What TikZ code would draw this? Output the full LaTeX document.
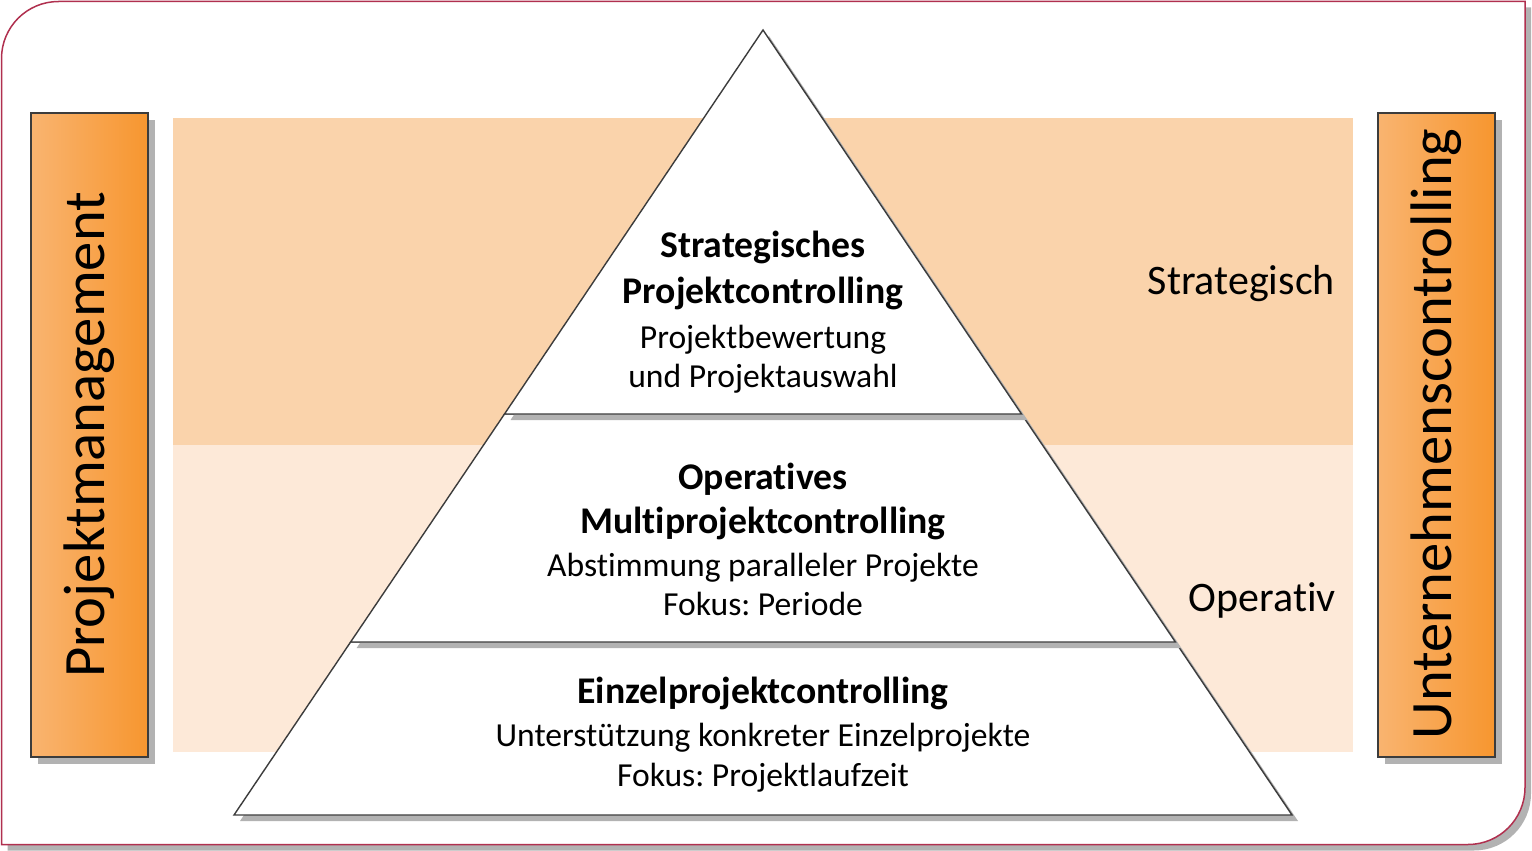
\documentclass[tikz,border=0pt]{standalone}
\usepackage{fontspec}
\setmainfont{Carlito}[Ligatures=NoCommon]
\frenchspacing
\definecolor{framered}{HTML}{B0304F}
\definecolor{shadowgray}{HTML}{B2B2B2}
\definecolor{stratband}{HTML}{FAD3AB}
\definecolor{operband}{HTML}{FDE9D8}
\definecolor{boxL}{HTML}{F9B470}
\definecolor{boxR}{HTML}{F7962F}
\definecolor{edgegray}{HTML}{3C3C3C}
\tikzset{
  shadowfill/.style={fill=shadowgray},
  pyrshape/.style={fill=white, draw=edgegray, line width=1.4pt, line join=miter},
  sidebox/.style={left color=boxL, right color=boxR, draw=edgegray, line width=1.8pt},
  headtext/.style={font=\fontsize{37.7}{44}\selectfont\bfseries, anchor=base, inner sep=0pt},
  subtext/.style={font=\fontsize{33.6}{39}\selectfont, anchor=base, inner sep=0pt},
  leveltext/.style={font=\fontsize{42}{48}\selectfont, anchor=base east, inner sep=0pt},
  sidetext/.style={font=\fontsize{58.6}{66}\selectfont, rotate=90, inner sep=0pt}
}
\begin{document}
\begin{tikzpicture}[x=1pt,y=-1pt]
\useasboundingbox (0,0) rectangle (1532,851);
% outer frame shadow and frame
\fill[shadowgray] (7.5,64.5) arc[start angle=180,end angle=270,radius=57] -- (1531,7.5) -- (1531,793.5) arc[start angle=0,end angle=90,radius=57] -- (7.5,850.5) -- cycle;
\draw[framered, fill=white, line width=1.5pt] (1.5,58.5) arc[start angle=180,end angle=270,radius=57] -- (1525,1.5) -- (1525,787.5) arc[start angle=0,end angle=90,radius=57] -- (1.5,844.5) -- cycle;
% bands
\fill[stratband] (173,118) rectangle (1353,445);
\fill[operband] (173,445) rectangle (1353,752);
% side boxes
\fill[shadowfill] (38,120) rectangle (155,764);
\fill[shadowfill] (1385,120) rectangle (1502,764);
\path[sidebox] (31,113) rectangle (148,757);
\path[sidebox] (1378,113) rectangle (1495,757);
\node[sidetext] (pm) at (89.5,435) {Projektmanagement};
\node[sidetext] (uc) at (1436.5,434) {Unternehmenscontrolling};
% pyramid coordinates
\coordinate (apex) at (763,30);
\coordinate (tl) at (504.5,414);
\coordinate (tr) at (1021.5,414);
\coordinate (ml) at (350.6,642);
\coordinate (mr) at (1175.4,642);
\coordinate (bl) at (234,815);
\coordinate (br) at (1292,815);
% bottom level
\fill[shadowfill] ([shift={(6,6)}]ml) -- ([shift={(6,6)}]mr) -- ([shift={(6,6)}]br) -- ([shift={(6,6)}]bl) -- cycle;
\path[pyrshape] (ml) -- (mr) -- (br) -- (bl) -- cycle;
% middle level
\fill[shadowfill] ([shift={(6,6)}]tl) -- ([shift={(6,6)}]tr) -- ([shift={(6,6)}]mr) -- ([shift={(6,6)}]ml) -- cycle;
\path[pyrshape] (tl) -- (tr) -- (mr) -- (ml) -- cycle;
% top level
\fill[shadowfill] ([shift={(6,6)}]apex) -- ([shift={(6,6)}]tr) -- ([shift={(6,6)}]tl) -- cycle;
\path[pyrshape] (apex) -- (tr) -- (tl) -- cycle;
% texts
\node[headtext] (s1) at (763,257) {Strategisches};
\node[headtext] (s2) at (763,303) {Projektcontrolling};
\node[subtext] (s3) at (763,348) {Projektbewertung};
\node[subtext] (s4) at (763,387) {und Projektauswahl};
\node[headtext] (o1) at (763,489) {Operatives};
\node[headtext] (o2) at (763,533) {Multiprojektcontrolling};
\node[subtext] (o3) at (763,576) {Abstimmung paralleler Projekte};
\node[subtext] (o4) at (763,615) {Fokus: Periode};
\node[headtext] (e1) at (763,703) {Einzelprojektcontrolling};
\node[subtext] (e2) at (763,746) {Unterstützung konkreter Einzelprojekte};
\node[subtext] (e3) at (763,786) {Fokus: Projektlaufzeit};
\node[leveltext] (ls) at (1335,294) {Strategisch};
\node[leveltext] (lo) at (1336,611) {Operativ};
\end{tikzpicture}
\end{document}
